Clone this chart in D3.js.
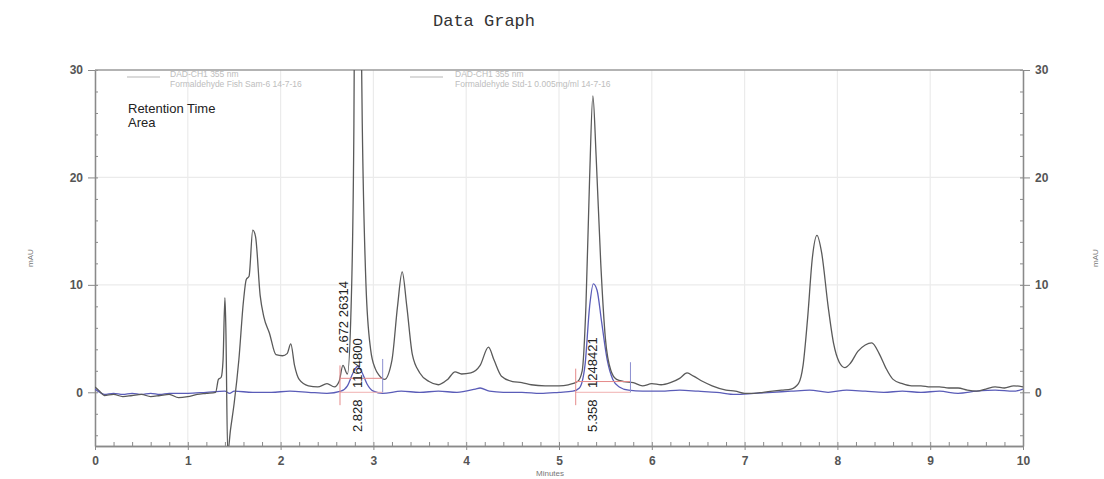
<!DOCTYPE html>
<html>
<head>
<meta charset="utf-8">
<script src="https://cdn.jsdelivr.net/npm/d3@7/dist/d3.min.js"></script>
<style>
  html, body { margin: 0; padding: 0; background: #fff; }
  svg { display: block; }
</style>
</head>
<body>
<svg id="chart" width="1104" height="479"></svg>
<script>
// Sample chromatogram (DAD-CH1 355 nm, Formaldehyde Fish Sam-6)
const sampleTime = [0.00,0.05,0.10,0.20,0.30,0.40,0.50,0.60,0.70,0.80,0.90,1.00,1.10,1.20,1.30,1.33,1.36,1.38,1.40,1.41,1.43,1.46,1.50,1.55,1.60,1.63,1.66,1.70,1.73,1.78,1.82,1.88,1.95,2.02,2.07,2.11,2.15,2.20,2.30,2.40,2.50,2.58,2.63,2.672,2.72,2.76,2.79,2.80,2.83,2.86,2.88,2.92,2.97,3.02,3.06,3.12,3.20,3.26,3.31,3.36,3.42,3.50,3.60,3.70,3.80,3.88,3.95,4.05,4.15,4.24,4.30,4.38,4.50,4.60,4.70,4.85,5.00,5.10,5.20,5.25,5.29,5.33,5.365,5.40,5.45,5.50,5.56,5.62,5.70,5.80,5.90,6.00,6.10,6.20,6.30,6.38,6.45,6.55,6.65,6.80,6.90,7.00,7.10,7.20,7.30,7.40,7.50,7.58,7.63,7.68,7.73,7.78,7.83,7.90,7.96,8.02,8.08,8.14,8.22,8.30,8.37,8.45,8.52,8.60,8.70,8.80,8.90,9.00,9.10,9.20,9.30,9.40,9.50,9.60,9.70,9.80,9.90,10.00];
const sampleValue = [0.5,0.1,-0.3,-0.2,-0.4,-0.3,-0.2,-0.4,-0.3,-0.2,-0.5,-0.4,-0.2,-0.1,0.0,1.2,1.4,3.0,8.8,6.0,-5.6,-3.5,-1.0,3.0,8.5,10.5,10.8,15.1,14.5,9.0,7.0,5.5,3.5,3.4,3.6,4.5,2.5,1.2,0.6,0.5,0.8,0.5,1.0,2.5,1.7,8.0,25.0,40.0,48.0,40.0,25.0,10.0,4.0,2.2,1.6,1.2,3.0,8.0,11.2,8.0,3.5,1.8,1.0,0.7,1.2,1.9,1.7,1.8,2.5,4.2,3.0,1.5,1.0,0.9,0.7,0.6,0.6,0.7,1.0,2.0,8.0,20.0,27.6,22.0,12.0,5.0,2.0,1.2,1.0,0.9,0.6,0.8,0.7,0.9,1.3,1.8,1.5,1.0,0.6,0.2,0.1,-0.1,-0.1,0.0,0.1,0.2,0.3,0.8,2.5,7.0,12.5,14.6,13.0,8.0,4.5,2.8,2.3,2.7,3.8,4.4,4.6,3.6,2.3,1.2,0.8,0.6,0.6,0.5,0.5,0.4,0.4,0.2,0.1,0.3,0.5,0.4,0.6,0.5];

// Standard chromatogram (DAD-CH1 355 nm, Formaldehyde Std-1 0.005mg/ml)
const stdTime = [0.00,0.05,0.10,0.20,0.30,0.40,0.50,0.60,0.70,0.80,0.90,1.00,1.20,1.40,1.45,1.50,1.70,1.90,2.10,2.30,2.50,2.65,2.72,2.78,2.83,2.88,2.93,3.00,3.10,3.30,3.50,3.70,3.90,4.10,4.15,4.25,4.40,4.60,4.80,5.00,5.15,5.22,5.28,5.33,5.37,5.41,5.46,5.52,5.58,5.65,5.75,5.90,6.10,6.30,6.50,6.70,6.90,7.10,7.30,7.50,7.70,7.90,8.10,8.30,8.50,8.70,8.90,9.10,9.30,9.50,9.70,9.90,10.00];
const stdValue = [0.3,0.0,-0.2,-0.1,-0.2,-0.1,-0.2,-0.1,-0.2,-0.1,-0.1,-0.1,0.0,0.1,-0.1,0.1,0.0,0.0,0.1,0.0,-0.1,0.1,0.6,1.8,2.4,1.8,0.8,0.1,-0.1,0.1,0.0,0.1,0.0,0.3,0.4,0.1,0.0,0.0,-0.1,0.0,0.1,0.4,2.5,8.0,10.1,9.5,6.5,3.0,1.2,0.5,0.2,0.1,0.1,0.2,0.1,0.0,-0.2,-0.1,0.0,0.1,0.2,0.0,0.2,0.1,0.0,0.1,0.0,0.1,-0.1,0.1,0.2,0.1,0.3];

// Integrated peaks: retention time label, area label, integration window and baseline level
const peakRT = ["2.672", "2.828", "5.358"];
const peakTime = [2.672, 2.828, 5.358];
const peakArea = ["26314", "1164800", "1248421"];
const peakStart = [2.64, 2.64, 5.18];
const peakEnd = [3.10, 3.10, 5.77];
const peakBase = [1.3, 1.3, 1.0];

const xTicks = [0,1,2,3,4,5,6,7,8,9,10];
const yTicks = [0,10,20,30];
const legendTitles = ["DAD-CH1  355 nm", "DAD-CH1  355 nm"];
const legendNames = ["Formaldehyde Fish Sam-6 14-7-16", "Formaldehyde Std-1  0.005mg/ml  14-7-16"];

const svg = d3.select("#chart");
const m = { left: 95, right: 1023, top: 70, bottom: 446 };
const x = d3.scaleLinear().domain([0, 10]).range([m.left, m.right]);
const y = d3.scaleLinear().domain([-5, 30]).range([m.bottom, m.top]);
const font = "'Liberation Sans', Arial, sans-serif";

svg.append("text").attr("x", 484).attr("y", 26).attr("text-anchor", "middle")
  .attr("font-family", "'Liberation Mono', 'Courier New', monospace").attr("font-size", 17)
  .attr("fill", "#333").text("Data Graph");

// grid
const grid = svg.append("g");
grid.selectAll("line.v").data(xTicks.slice(1, -1)).join("line")
  .attr("x1", d => x(d)).attr("x2", d => x(d)).attr("y1", m.top).attr("y2", m.bottom)
  .attr("stroke", "#ebebeb").attr("stroke-width", 1.2);
grid.selectAll("line.h").data([10, 20]).join("line")
  .attr("x1", m.left).attr("x2", m.right).attr("y1", d => y(d)).attr("y2", d => y(d))
  .attr("stroke", "#ebebeb").attr("stroke-width", 1.2);

// axes
const axisColor = "#8a8a8a";
function styleAxis(g) {
  g.selectAll("path").attr("stroke", axisColor).attr("stroke-width", 1.3);
  g.selectAll("line").attr("stroke", axisColor);
  g.selectAll("text").attr("font-family", font).attr("font-size", 12)
    .attr("font-weight", "bold").attr("fill", "#555");
}
const minorX = d3.range(0, 10.001, 0.2);
const minorY = d3.range(-4, 30.001, 2);

svg.append("g").attr("transform", `translate(0,${m.bottom})`)
  .call(d3.axisBottom(x).tickValues(minorX).tickSize(-4).tickFormat("").tickSizeOuter(0)).call(styleAxis);
svg.append("g").attr("transform", `translate(0,${m.bottom})`)
  .call(d3.axisBottom(x).tickValues(xTicks).tickSize(4).tickPadding(6).tickFormat(d3.format("d")).tickSizeOuter(0)).call(styleAxis);

svg.append("g").attr("transform", `translate(${m.left},0)`)
  .call(d3.axisLeft(y).tickValues(minorY).tickSize(-3).tickFormat("").tickSizeOuter(0)).call(styleAxis);
svg.append("g").attr("transform", `translate(${m.left},0)`)
  .call(d3.axisLeft(y).tickValues(yTicks).tickSize(7).tickPadding(5).tickFormat(d3.format("d")).tickSizeOuter(0)).call(styleAxis);

svg.append("g").attr("transform", `translate(${m.right},0)`)
  .call(d3.axisRight(y).tickValues(minorY).tickSize(-3).tickFormat("").tickSizeOuter(0)).call(styleAxis);
svg.append("g").attr("transform", `translate(${m.right},0)`)
  .call(d3.axisRight(y).tickValues(yTicks).tickSize(7).tickPadding(5).tickFormat(d3.format("d")).tickSizeOuter(0)).call(styleAxis);

svg.append("line").attr("x1", m.left).attr("x2", m.right).attr("y1", m.top).attr("y2", m.top)
  .attr("stroke", "#9a9a9a").attr("stroke-width", 1.3);

// axis titles
svg.append("text").attr("x", 550).attr("y", 476).attr("text-anchor", "middle")
  .attr("font-family", font).attr("font-size", 8).attr("fill", "#777").text("Minutes");
[33, 1098].forEach(px => {
  svg.append("text").attr("transform", `translate(${px},258) rotate(-90)`).attr("text-anchor", "middle")
    .attr("font-family", font).attr("font-size", 8).attr("fill", "#777").text("mAU");
});

// traces
svg.append("clipPath").attr("id", "plot-clip").append("rect")
  .attr("x", m.left).attr("y", m.top).attr("width", m.right - m.left).attr("height", m.bottom - m.top);
const line = d3.line().x(d => x(d[0])).y(d => y(d[1])).curve(d3.curveMonotoneX);
const traces = svg.append("g").attr("clip-path", "url(#plot-clip)");
traces.append("path").datum(d3.zip(stdTime, stdValue)).attr("d", line)
  .attr("fill", "none").attr("stroke", "#5a5cb8").attr("stroke-width", 1.3);
traces.append("path").datum(d3.zip(sampleTime, sampleValue)).attr("d", line)
  .attr("fill", "none").attr("stroke", "#5a5a5a").attr("stroke-width", 1.3);

// integration baselines and markers
const integ = svg.append("g");
peakStart.forEach((s, i) => {
  if (i === 1) return;
  integ.append("line").attr("x1", x(s)).attr("x2", x(peakEnd[i])).attr("y1", y(peakBase[i])).attr("y2", y(peakBase[i]))
    .attr("stroke", "#e58a8a").attr("stroke-width", 1);
  integ.append("line").attr("x1", x(s)).attr("x2", x(peakEnd[i])).attr("y1", y(0)).attr("y2", y(0))
    .attr("stroke", "#f0b0b0").attr("stroke-width", 1);
  integ.append("line").attr("x1", x(s)).attr("x2", x(s)).attr("y1", y(peakBase[i] + 1.2)).attr("y2", y(-1.2))
    .attr("stroke", "#e58a8a").attr("stroke-width", 1);
  integ.append("line").attr("x1", x(peakEnd[i])).attr("x2", x(peakEnd[i])).attr("y1", y(peakBase[i] + 1.8)).attr("y2", y(0))
    .attr("stroke", "#8c8fd0").attr("stroke-width", 1);
});

// peak annotations (rotated)
const ann = svg.append("g").attr("font-family", font).attr("font-size", 13).attr("fill", "#222");
ann.append("text")
  .attr("transform", `translate(${x(peakTime[0]) + 5},${y(2.5) - 12}) rotate(-90)`)
  .text(`${peakRT[0]} ${peakArea[0]}`);
[1, 2].forEach(i => {
  ann.append("text")
    .attr("transform", `translate(${x(peakTime[i]) + 5},${y(0.4)}) rotate(-90)`)
    .text(peakArea[i]);
  ann.append("text")
    .attr("transform", `translate(${x(peakTime[i]) + 5},${y(-3.7)}) rotate(-90)`)
    .text(peakRT[i]);
});

// legend
const lg = svg.append("g").attr("font-family", font).attr("font-size", 8.5).attr("fill", "#bdbdbd");
[[127, 170], [410, 455]].forEach(([lx, tx], i) => {
  lg.append("line").attr("x1", lx).attr("x2", lx + 33).attr("y1", 77).attr("y2", 77)
    .attr("stroke", "#b5b5b5").attr("stroke-width", 1);
  lg.append("text").attr("x", tx).attr("y", 77).text(legendTitles[i]);
  lg.append("text").attr("x", tx).attr("y", 87).text(legendNames[i]);
});

svg.append("text").attr("x", 128).attr("y", 113).attr("font-family", font).attr("font-size", 13)
  .attr("fill", "#222").text("Retention Time");
svg.append("text").attr("x", 128).attr("y", 127).attr("font-family", font).attr("font-size", 13)
  .attr("fill", "#222").text("Area");
</script>
</body>
</html>
